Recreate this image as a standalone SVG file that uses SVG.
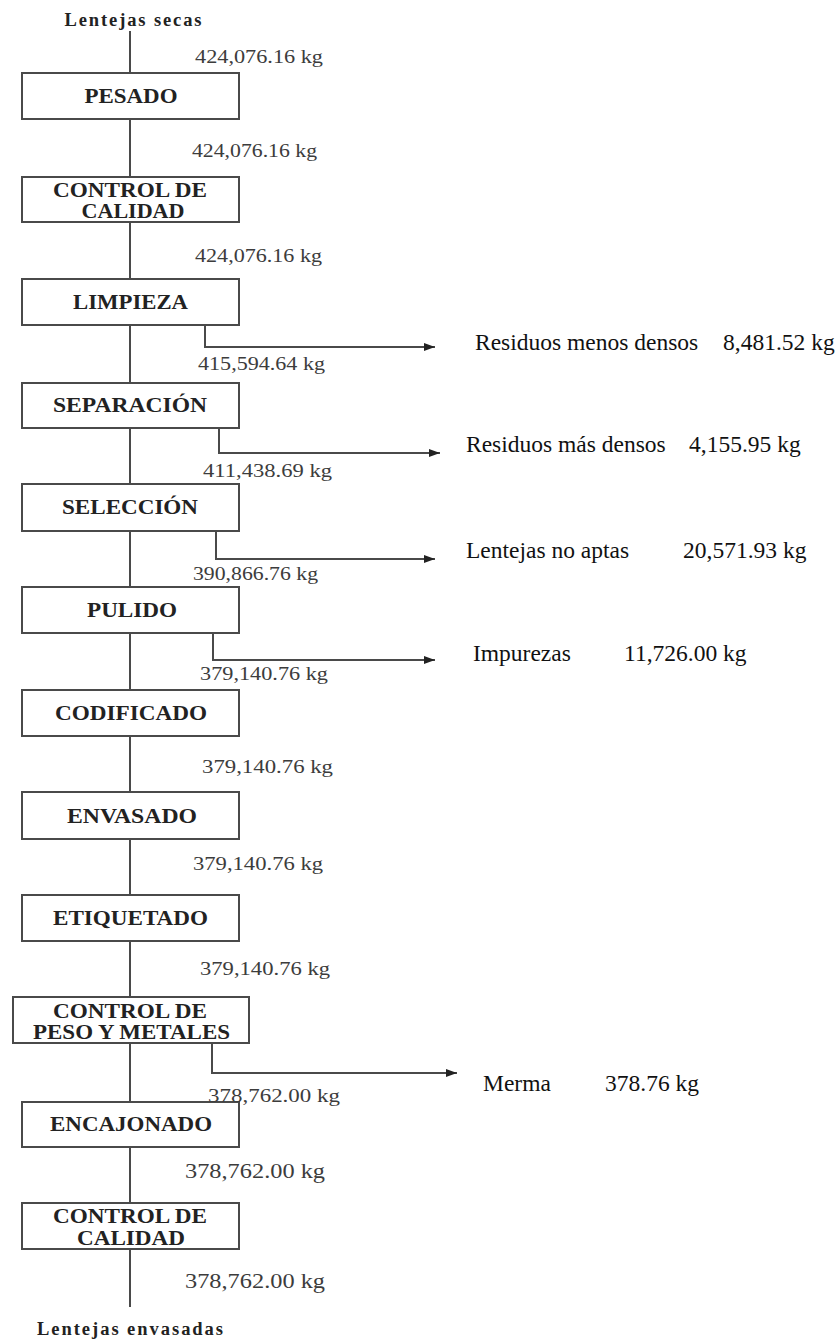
<svg xmlns="http://www.w3.org/2000/svg" width="836" height="1340" viewBox="0 0 836 1340">
<defs>
<marker id="arr" markerUnits="userSpaceOnUse" markerWidth="11" markerHeight="8" refX="11" refY="4" orient="auto">
<path d="M0,0 L11,4 L0,8 z" fill="#222"/>
</marker>
<style>
.box{fill:#fff;stroke:#4a4a4a;stroke-width:2}
.lbl{font-family:"Liberation Serif","Times New Roman",serif;font-weight:bold;font-size:20px;fill:#222;text-anchor:middle}
.ttl{font-family:"Liberation Serif","Times New Roman",serif;font-weight:bold;font-size:18.5px;fill:#222;text-anchor:middle}
.wt{font-family:"Liberation Serif","Times New Roman",serif;font-size:19px;fill:#3c3c3c}
.out{font-family:"Liberation Serif","Times New Roman",serif;font-size:23.5px;fill:#111}
.ln{fill:none;stroke:#4a4a4a;stroke-width:2}
</style>
</defs>
<rect width="836" height="1340" fill="#fff"/>
<g id="connectors">
<line class="ln" x1="130" y1="31" x2="130" y2="1307"/>
<path class="ln" d="M205,325 V347 H435" marker-end="url(#arr)"/>
<path class="ln" d="M219,428 V453 H440" marker-end="url(#arr)"/>
<path class="ln" d="M216,531 V559 H435" marker-end="url(#arr)"/>
<path class="ln" d="M213,633 V660 H435" marker-end="url(#arr)"/>
<path class="ln" d="M212,1043 V1073 H457" marker-end="url(#arr)"/>
</g>
<g id="input"><text class="ttl" x="133" y="26" textLength="137" lengthAdjust="spacing">Lentejas secas</text></g>
<g id="n-pesado"><rect class="box" x="22" y="73" width="217" height="46"/><text class="lbl" x="131" y="103" textLength="93" lengthAdjust="spacingAndGlyphs">PESADO</text></g>
<g id="n-control1"><rect class="box" x="22" y="177" width="217" height="45"/><text class="lbl" x="130" y="197" textLength="154" lengthAdjust="spacingAndGlyphs">CONTROL DE</text><text class="lbl" x="133" y="218" textLength="103" lengthAdjust="spacingAndGlyphs">CALIDAD</text></g>
<g id="n-limpieza"><rect class="box" x="22" y="279" width="217" height="46"/><text class="lbl" x="130.5" y="309" textLength="115" lengthAdjust="spacingAndGlyphs">LIMPIEZA</text></g>
<g id="n-separacion"><rect class="box" x="22" y="383" width="217" height="45"/><text class="lbl" x="130" y="412" textLength="154" lengthAdjust="spacingAndGlyphs">SEPARACIÓN</text></g>
<g id="n-seleccion"><rect class="box" x="22" y="484" width="217" height="47"/><text class="lbl" x="130" y="514" textLength="136" lengthAdjust="spacingAndGlyphs">SELECCIÓN</text></g>
<g id="n-pulido"><rect class="box" x="22" y="587" width="217" height="46"/><text class="lbl" x="132" y="617" textLength="90" lengthAdjust="spacingAndGlyphs">PULIDO</text></g>
<g id="n-codificado"><rect class="box" x="22" y="690" width="217" height="46"/><text class="lbl" x="131" y="720" textLength="152" lengthAdjust="spacingAndGlyphs">CODIFICADO</text></g>
<g id="n-envasado"><rect class="box" x="22" y="792" width="217" height="47"/><text class="lbl" x="132" y="823" textLength="130" lengthAdjust="spacingAndGlyphs">ENVASADO</text></g>
<g id="n-etiquetado"><rect class="box" x="22" y="895" width="217" height="46"/><text class="lbl" x="130.5" y="925" textLength="155" lengthAdjust="spacingAndGlyphs">ETIQUETADO</text></g>
<g id="n-control-peso"><rect class="box" x="13" y="997" width="236" height="46"/><text class="lbl" x="130" y="1018" textLength="154" lengthAdjust="spacingAndGlyphs">CONTROL DE</text><text class="lbl" x="131.5" y="1039" textLength="197" lengthAdjust="spacingAndGlyphs">PESO Y METALES</text></g>
<g id="n-encajonado"><rect class="box" x="22" y="1102" width="217" height="45"/><text class="lbl" x="131" y="1131" textLength="162" lengthAdjust="spacingAndGlyphs">ENCAJONADO</text></g>
<g id="n-control2"><rect class="box" x="22" y="1203" width="217" height="46"/><text class="lbl" x="130" y="1223" textLength="154" lengthAdjust="spacingAndGlyphs">CONTROL DE</text><text class="lbl" x="131" y="1245" textLength="108" lengthAdjust="spacingAndGlyphs">CALIDAD</text></g>
<g id="output"><text class="ttl" x="130" y="1335" textLength="186" lengthAdjust="spacing">Lentejas envasadas</text></g>
<g id="weights">
<text class="wt" x="195" y="63" textLength="128" lengthAdjust="spacingAndGlyphs">424,076.16 kg</text>
<text class="wt" x="192" y="157" textLength="125" lengthAdjust="spacingAndGlyphs">424,076.16 kg</text>
<text class="wt" x="195" y="262" textLength="127" lengthAdjust="spacingAndGlyphs">424,076.16 kg</text>
<text class="wt" x="198" y="370" textLength="127" lengthAdjust="spacingAndGlyphs">415,594.64 kg</text>
<text class="wt" x="203" y="477" textLength="129" lengthAdjust="spacingAndGlyphs">411,438.69 kg</text>
<text class="wt" x="193" y="580" textLength="125" lengthAdjust="spacingAndGlyphs">390,866.76 kg</text>
<text class="wt" x="200" y="680" textLength="128" lengthAdjust="spacingAndGlyphs">379,140.76 kg</text>
<text class="wt" x="202" y="773" textLength="131" lengthAdjust="spacingAndGlyphs">379,140.76 kg</text>
<text class="wt" x="193" y="870" textLength="130" lengthAdjust="spacingAndGlyphs">379,140.76 kg</text>
<text class="wt" x="200" y="975" textLength="130" lengthAdjust="spacingAndGlyphs">379,140.76 kg</text>
<text class="wt" x="208" y="1102" style="font-size:19.5px" textLength="132" lengthAdjust="spacingAndGlyphs">378,762.00 kg</text>
<text class="wt" x="185" y="1178" style="font-size:20.5px" textLength="140" lengthAdjust="spacingAndGlyphs">378,762.00 kg</text>
<text class="wt" x="185" y="1288" style="font-size:20.5px" textLength="140" lengthAdjust="spacingAndGlyphs">378,762.00 kg</text>
</g>
<g id="outputs">
<text class="out" x="475" y="350">Residuos menos densos</text><text class="out" x="723" y="350">8,481.52 kg</text>
<text class="out" x="466" y="452">Residuos más densos</text><text class="out" x="689" y="452">4,155.95 kg</text>
<text class="out" x="466" y="558">Lentejas no aptas</text><text class="out" x="683" y="558">20,571.93 kg</text>
<text class="out" x="473" y="661">Impurezas</text><text class="out" x="624" y="661">11,726.00 kg</text>
<text class="out" x="483" y="1091">Merma</text><text class="out" x="605" y="1091">378.76 kg</text>
</g>
</svg>
